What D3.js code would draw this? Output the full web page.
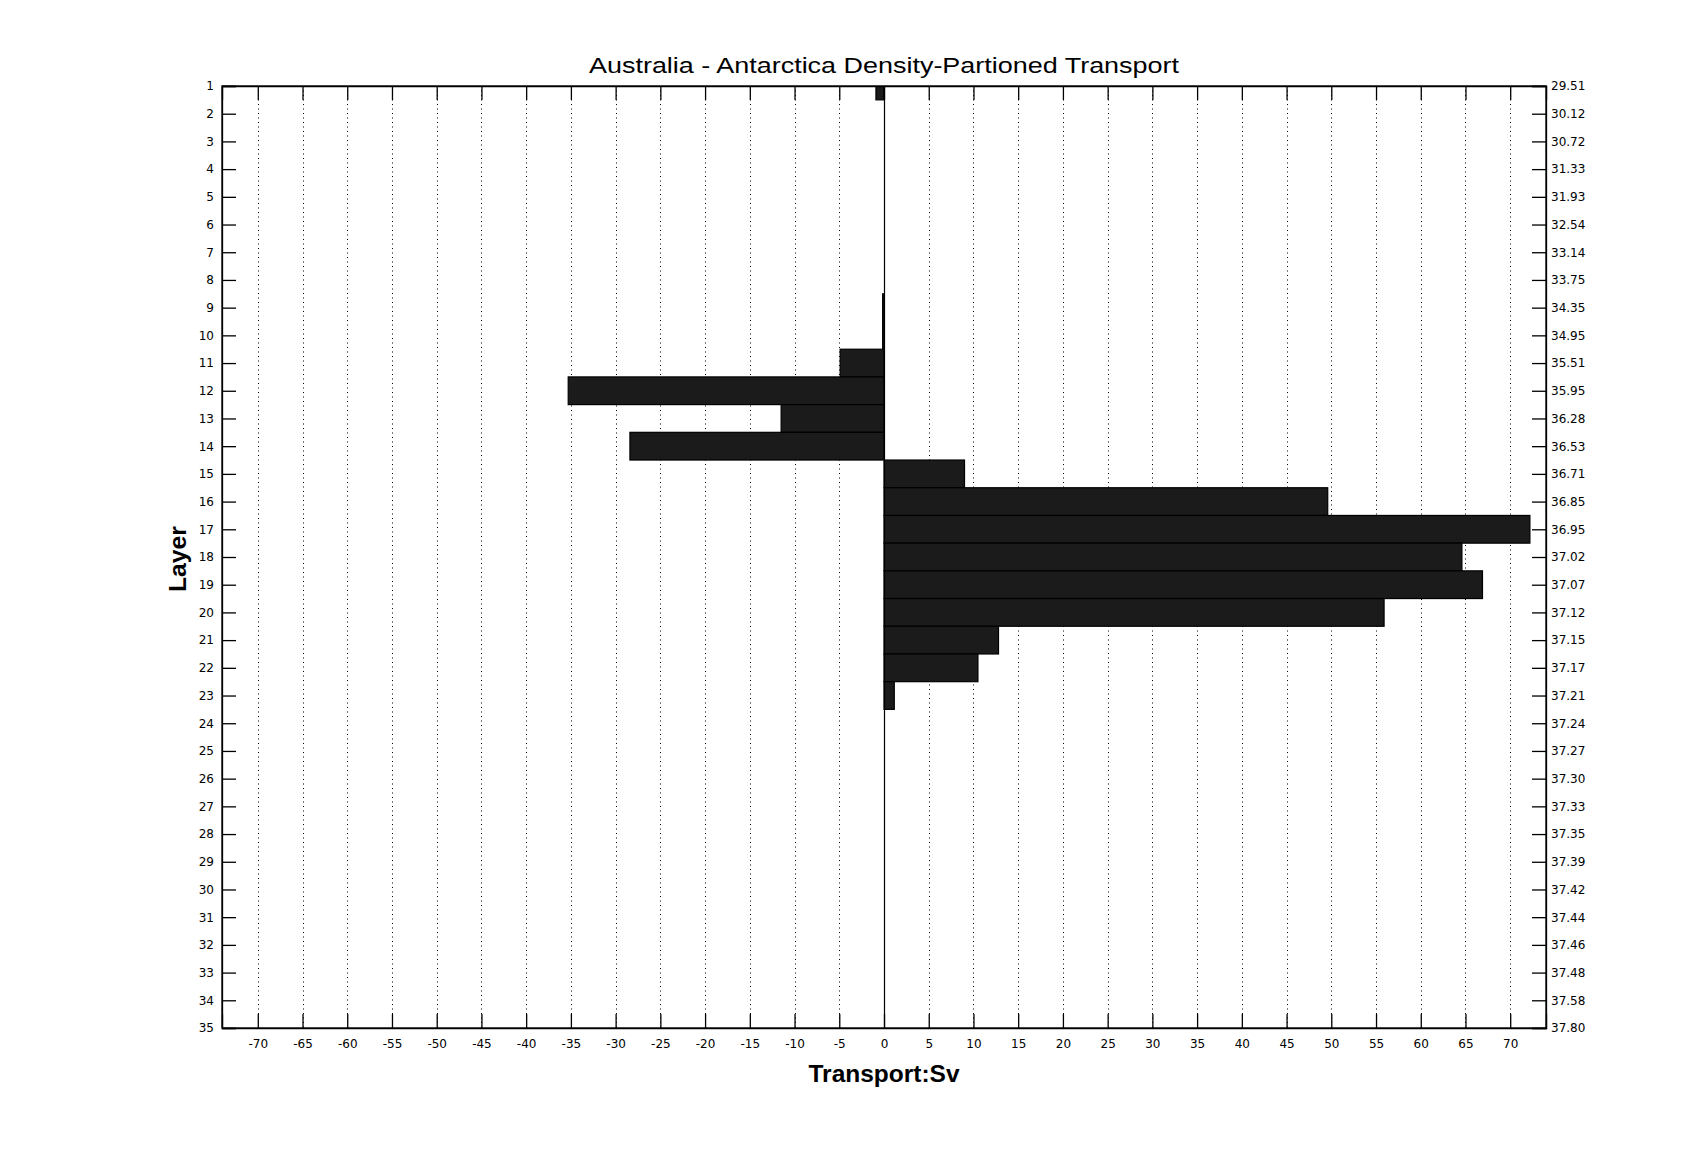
<!DOCTYPE html>
<html>
<head>
<meta charset="utf-8">
<script src="https://cdn.jsdelivr.net/npm/d3@7"></script>
<style>
  html, body { margin: 0; padding: 0; background: #fff; }
  svg { display: block; }
  text { fill: #000; }
</style>
</head>
<body>
<script>
// ---- data ----
const layers = d3.range(1, 36);
const transport = [
  -0.9, 0, 0, 0, 0, 0, 0, 0, -0.15, -0.15,
  -4.9, -35.3, -11.5, -28.4, 9.0, 49.6, 72.2, 64.6, 66.9, 55.9,
  12.8, 10.5, 1.15, 0, 0, 0, 0, 0, 0, 0,
  0, 0, 0, 0, 0
];
const densityLabels = [
  "29.51","30.12","30.72","31.33","31.93","32.54","33.14","33.75","34.35","34.95",
  "35.51","35.95","36.28","36.53","36.71","36.85","36.95","37.02","37.07","37.12",
  "37.15","37.17","37.21","37.24","37.27","37.30","37.33","37.35","37.39","37.42",
  "37.44","37.46","37.48","37.58","37.80"
];
const xTicks = d3.range(-70, 71, 5);
const titleText = "Australia - Antarctica Density-Partioned Transport";
const xLabelText = "Transport:Sv";
const yLabelText = "Layer";

// ---- layout ----
const W = 1707, H = 1155;
const L = 222, R = 1546, T = 86, B = 1028;

const svg = d3.select("body").append("svg").attr("width", W).attr("height", H);

const x = d3.scaleLinear().domain([-74, 74]).range([L, R]);
const y = d3.scaleLinear().domain([1, 35]).range([T, B]);

svg.append("defs").append("clipPath").attr("id", "plotclip")
  .append("rect").attr("x", L).attr("y", T).attr("width", R - L).attr("height", B - T);

// grid (dotted vertical)
svg.append("g").selectAll("line").data(xTicks).join("line")
  .attr("x1", d => Math.round(x(d)) + 0.5).attr("x2", d => Math.round(x(d)) + 0.5)
  .attr("y1", T).attr("y2", B)
  .attr("stroke", "#000").attr("stroke-width", 1)
  .attr("stroke-dasharray", "1,3.5");

// bars
const data = layers.map((l, i) => ({ layer: l, v: transport[i] })).filter(d => d.v !== 0);
svg.append("g").attr("clip-path", "url(#plotclip)")
  .selectAll("rect").data(data).join("rect")
  .attr("x", d => x(Math.min(0, d.v)))
  .attr("width", d => Math.max(1, Math.abs(x(d.v) - x(0))))
  .attr("y", d => y(d.layer - 0.5))
  .attr("height", d => y(d.layer + 0.5) - y(d.layer - 0.5))
  .attr("fill", "#1b1b1b")
  .attr("stroke", "#000").attr("stroke-width", 1.2);

// zero baseline
svg.append("line")
  .attr("x1", Math.round(x(0)) + 0.5).attr("x2", Math.round(x(0)) + 0.5)
  .attr("y1", T).attr("y2", B).attr("stroke", "#000").attr("stroke-width", 1.2);

// axes (inward ticks)
const tickLen = 14;
const fmt = d => String(d);
const axB = d3.axisBottom(x).tickValues(xTicks).tickSize(-tickLen).tickPadding(11).tickFormat(fmt);
const axT = d3.axisTop(x).tickValues(xTicks).tickSize(-tickLen).tickFormat("");
const axL = d3.axisLeft(y).tickValues(layers).tickSize(-tickLen).tickPadding(8).tickFormat(fmt);
const axR = d3.axisRight(y).tickValues(layers).tickSize(-tickLen).tickPadding(5)
  .tickFormat((d, i) => densityLabels[i]);

function styleAxis(g) {
  g.selectAll("path.domain").attr("stroke", "#000").attr("stroke-width", 1.3);
  g.selectAll(".tick line").attr("stroke", "#000").attr("stroke-width", 1.3);
  g.selectAll("text").attr("font-family", "DejaVu Sans, sans-serif").attr("font-size", 12).attr("fill", "#000");
  g.attr("font-family", null).attr("font-size", null);
}
svg.append("g").attr("transform", `translate(0,${B})`).call(axB).call(styleAxis);
svg.append("g").attr("transform", `translate(0,${T})`).call(axT).call(styleAxis);
svg.append("g").attr("transform", `translate(${L},0)`).call(axL).call(styleAxis);
svg.append("g").attr("transform", `translate(${R},0)`).call(axR).call(styleAxis);

// frame
svg.append("rect").attr("x", L).attr("y", T).attr("width", R - L).attr("height", B - T)
  .attr("fill", "none").attr("stroke", "#000").attr("stroke-width", 1.3);

// title
svg.append("text").attr("x", (L + R) / 2).attr("y", 73)
  .attr("text-anchor", "middle")
  .attr("font-family", "Liberation Sans, Arial, sans-serif").attr("font-size", 22)
  .attr("textLength", 590).attr("lengthAdjust", "spacingAndGlyphs")
  .text(titleText);

// x label
svg.append("text").attr("x", (L + R) / 2).attr("y", 1082)
  .attr("text-anchor", "middle")
  .attr("font-family", "Liberation Sans, Arial, sans-serif").attr("font-size", 24).attr("font-weight", "bold")
  .attr("textLength", 151).attr("lengthAdjust", "spacingAndGlyphs")
  .text(xLabelText);

// y label
svg.append("text").attr("transform", `translate(186,559) rotate(-90)`)
  .attr("text-anchor", "middle")
  .attr("font-family", "Liberation Sans, Arial, sans-serif").attr("font-size", 24).attr("font-weight", "bold")
  .attr("textLength", 66).attr("lengthAdjust", "spacingAndGlyphs")
  .text(yLabelText);
</script>
</body>
</html>
